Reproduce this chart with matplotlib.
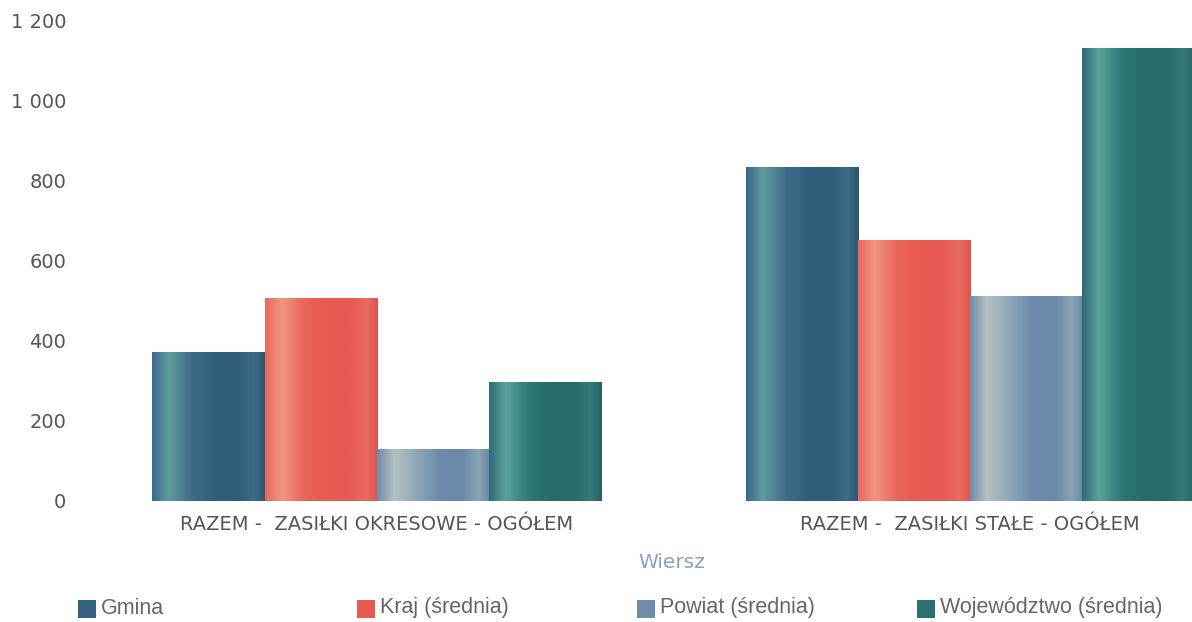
import matplotlib
matplotlib.use("Agg")
import matplotlib.pyplot as plt
import numpy as np
from matplotlib.colors import LinearSegmentedColormap
from matplotlib.patches import Rectangle

# dane
kategorie = ["RAZEM -  ZASIŁKI OKRESOWE - OGÓŁEM", "RAZEM -  ZASIŁKI STAŁE - OGÓŁEM"]
serie = ["Gmina", "Kraj (średnia)", "Powiat (średnia)", "Województwo (średnia)"]
gmina = [372, 835]
kraj = [507, 652]
powiat = [130, 512]
wojewodztwo = [297, 1132]
yticks = [0, 200, 400, 600, 800, 1000, 1200]
ytick_labels = ["0", "200", "400", "600", "800", "1 000", "1 200"]

wartosci = [gmina, kraj, powiat, wojewodztwo]
kolory = ["#35607f", "#e85a50", "#6f8dab", "#2b7170"]
# cieniowanie "walca" w poprzek slupka
gradienty = [
    ["#3d6790", "#5f9c9c", "#3e6d8a", "#30607c", "#2f5c78", "#3d6d88", "#2c5670"],
    ["#e9675c", "#f2957e", "#ea6458", "#e75a50", "#e65a52", "#ea6a60", "#e0544c"],
    ["#6d8cab", "#b4c0c2", "#8fa6b8", "#6d8cad", "#6a89aa", "#8aa4b2", "#6a87a4"],
    ["#2e6a78", "#5aa49c", "#2e7876", "#276e6c", "#266c6a", "#357a78", "#24625f"],
]

fig = plt.figure(figsize=(11.92, 6.22), dpi=100)
W, H = 1192, 622
ax = fig.add_axes([80 / W, 121 / H, (1192 - 80) / W, 480 / H])

x = np.arange(len(kategorie))
szer = 0.189
for i, (vals, kol, grad) in enumerate(zip(wartosci, kolory, gradienty)):
    pos = x + (i - 1.5) * szer
    bars = ax.bar(pos, vals, width=szer, color=kol, linewidth=0, label=serie[i])
    cmap = LinearSegmentedColormap.from_list("g%d" % i, list(zip([0, 0.15, 0.35, 0.55, 0.75, 0.9, 1.0], grad)))
    for b in bars:
        x0, w, h = b.get_x(), b.get_width(), b.get_height()
        im = ax.imshow(np.linspace(0, 1, 256).reshape(1, -1), cmap=cmap, aspect="auto",
                       extent=[x0, x0 + w, 0, h], zorder=3, interpolation="bilinear")
        im.set_clip_path(b)

ax.set_xlim(-0.5, 1.374)
ax.set_ylim(0, 1200)
ax.set_yticks(yticks)
ax.set_yticklabels(ytick_labels, fontsize=14, color="#555555", family="DejaVu Sans")
ax.set_xticks(x)
ax.set_xticklabels(kategorie, fontsize=14, color="#555555", family="DejaVu Sans")
ax.tick_params(axis="both", length=0)
ax.tick_params(axis="y", pad=10)
ax.tick_params(axis="x", pad=10)
for s in ax.spines.values():
    s.set_visible(False)

fig.text(672 / W, 1 - 563 / H, "Wiersz", ha="center", va="center", fontsize=14.5,
         color="#8fa0bc", family="DejaVu Sans")

# legenda recznie
leg_x = [78, 357, 637, 917]
for lx, nazwa, kol in zip(leg_x, serie, kolory):
    fig.add_artist(Rectangle((lx / W, 1 - 618 / H), 18 / W, 18 / H, transform=fig.transFigure,
                             facecolor=kol, edgecolor="none"))
    fig.text((lx + 23) / W, 1 - 608 / H, nazwa, ha="left", va="center", fontsize=15.5,
             color="#666666", family="Liberation Sans")

fig.savefig("out.png", dpi=100, facecolor="white")
